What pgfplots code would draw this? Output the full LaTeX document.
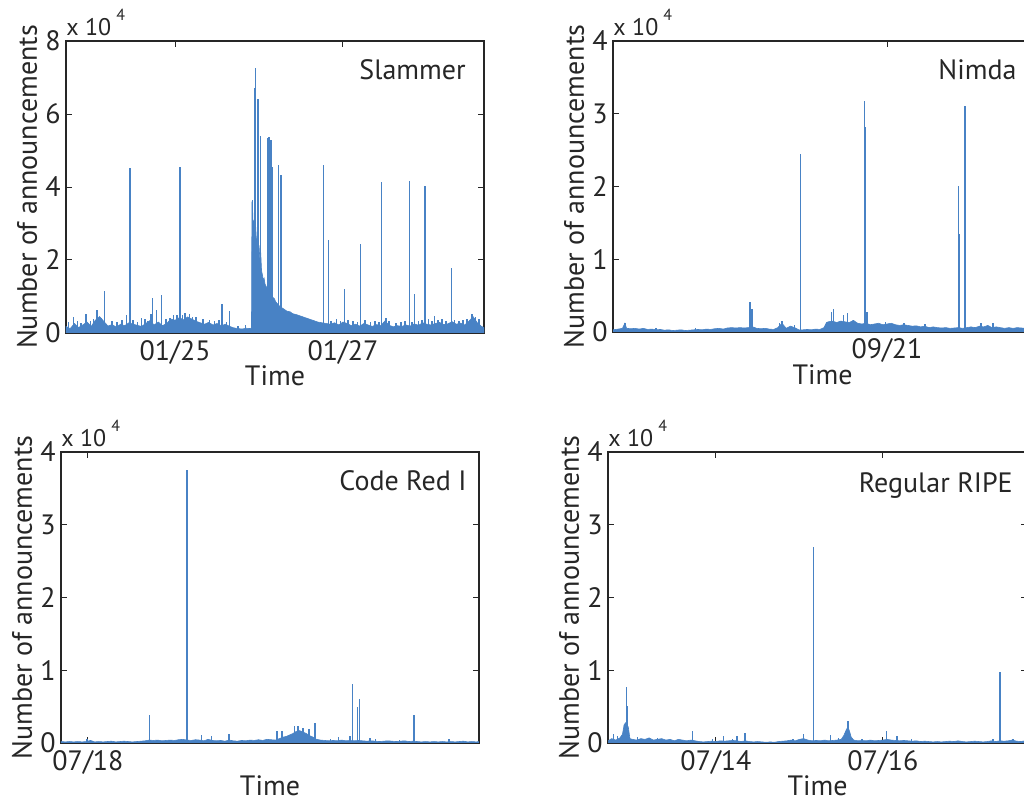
\documentclass[border=0pt]{standalone}
\usepackage{fontspec}
\setmainfont{PT Sans}
\usepackage{pgfplots}
\usepackage{pgfplotstable}
\pgfplotsset{compat=1.18}
\definecolor{mblue}{RGB}{72,130,197}
\definecolor{axgray}{RGB}{38,38,38}

% ---------------- Slammer ----------------
\pgfplotstableread{
x y
23.70 1800
23.75 1200
23.80 2600
23.85 1500
23.90 2200
23.95 3000
24.00 1800
24.05 3500
24.10 4500
24.15 3200
24.20 1900
24.25 2300
24.30 1600
24.35 2400
24.40 2000
24.45 2800
24.50 2400
24.55 2100
24.60 1800
24.65 2600
24.70 3400
24.75 2200
24.80 3000
24.85 2000
24.90 2600
24.95 3800
25.00 3500
25.05 4200
25.10 3600
25.15 4400
25.20 3800
25.25 3200
25.30 2800
25.35 2400
25.40 2900
25.45 2200
25.50 2600
25.55 2000
25.60 2400
25.65 1800
25.70 1400
25.75 1200
25.80 1100
25.85 1300
25.90 1200
25.91 1500
25.915 36000
25.92 30000
25.925 33000
25.93 28000
25.94 31000
25.95 27000
25.96 29000
25.97 25000
25.98 26000
25.99 22000
26.00 24000
26.01 20000
26.02 22000
26.03 17000
26.04 16000
26.05 14500
26.06 15000
26.07 13500
26.08 13000
26.09 12500
26.10 12000
26.12 11000
26.14 10500
26.16 9800
26.18 9500
26.20 8500
26.22 8000
26.25 7200
26.28 6800
26.30 6500
26.33 6000
26.37 5800
26.40 5300
26.45 5000
26.50 4600
26.55 4200
26.60 3800
26.65 3400
26.70 3000
26.75 2800
26.80 2600
26.85 2400
26.90 2800
26.95 2200
27.00 3000
27.05 2600
27.10 2000
27.15 2400
27.20 1900
27.25 2600
27.30 2200
27.35 1800
27.40 2300
27.45 2000
27.50 3300
27.55 2100
27.60 1700
27.65 2000
27.70 1800
27.75 2200
27.80 1900
27.85 2500
27.90 2100
27.95 2800
28.00 2400
28.05 2200
28.10 2600
28.15 2900
28.20 2300
28.25 2500
28.30 3100
28.35 2400
28.40 2700
28.45 2200
28.50 3200
28.55 4500
28.60 2800
28.65 1800
28.68 1500
}\slambase

\pgfplotstableread{
x y
23.73 3000
23.79 4500
23.84 3200
23.88 2800
23.94 5200
23.99 3400
24.03 3900
24.07 6300
24.12 4200
24.16 11500
24.25 3300
24.31 2900
24.37 3600
24.42 4900
24.46 45100
24.50 3500
24.55 3000
24.60 4000
24.64 3800
24.67 3300
24.71 5200
24.73 9500
24.78 6300
24.84 10500
24.89 3700
24.94 4000
24.98 4800
25.02 5000
25.06 45400
25.09 4900
25.12 5600
25.17 5200
25.21 4500
25.25 4300
25.33 3800
25.41 3500
25.47 3200
25.52 3600
25.56 8000
25.61 3000
25.65 6000
25.75 2000
25.84 2200
25.92 36500
25.95 67000
25.96 72600
25.99 64000
26.02 54000
26.10 53500
26.12 53600
26.14 53000
26.16 45600
26.23 46000
26.26 43400
26.77 46000
26.83 25500
26.86 3400
26.92 3800
26.97 3200
27.02 12000
27.06 3600
27.12 3300
27.17 2900
27.21 24400
27.26 3500
27.33 3100
27.38 3400
27.43 2900
27.46 41300
27.51 4200
27.55 3300
27.63 2800
27.69 3000
27.74 3400
27.79 41700
27.82 3100
27.85 10600
27.90 3200
27.94 3600
27.98 40300
28.02 3800
28.06 3300
28.09 4700
28.13 3500
28.18 3800
28.23 3300
28.29 17900
28.33 3600
28.38 3200
28.43 3500
28.48 3900
28.54 5300
28.58 4400
28.62 3800
}\slamspk

% ---------------- Nimda ----------------
\pgfplotstableread{
x y
17.74 300
17.80 400
17.85 500
17.88 1200
17.90 500
17.95 450
18.00 500
18.05 400
18.10 500
18.15 350
18.20 400
18.25 300
18.30 350
18.35 250
18.40 300
18.45 200
18.50 250
18.55 300
18.60 200
18.65 250
18.70 300
18.75 350
18.80 300
18.85 400
18.90 350
18.95 450
19.00 500
19.05 400
19.10 550
19.15 600
19.20 550
19.25 600
19.30 550
19.35 600
19.40 700
19.45 500
19.50 450
19.55 500
19.60 400
19.65 350
19.70 600
19.75 1200
19.80 500
19.85 800
19.90 600
19.95 300
20.00 300
20.05 350
20.10 300
20.15 400
20.20 350
20.25 600
20.28 1300
20.30 1400
20.35 1500
20.40 1300
20.45 1500
20.50 1400
20.55 1300
20.60 1600
20.65 1200
20.70 1100
20.75 1200
20.80 1000
20.85 1100
20.90 1200
20.95 1000
21.00 1100
21.05 1200
21.10 1000
21.15 900
21.20 1000
21.25 900
21.30 800
21.35 850
21.40 700
21.45 800
21.50 600
21.55 700
21.60 600
21.65 550
21.70 600
21.75 500
21.80 550
21.85 600
21.90 500
21.95 600
22.00 700
22.05 600
22.10 800
22.15 700
22.20 900
22.25 600
22.30 700
22.35 600
22.40 500
22.45 600
22.50 500
22.55 600
22.60 550
22.65 500
22.73 500
}\nimbase

\pgfplotstableread{
x y
17.88 1300
18.25 600
18.72 500
19.37 4100
19.39 3200
19.72 1300
19.75 1500
19.90 1000
19.97 24400
20.34 2700
20.36 3200
20.48 2400
20.53 2600
20.73 31700
20.74 28200
20.76 2800
20.98 1400
21.20 1200
21.45 1100
21.85 20000
21.86 13500
21.93 31000
22.12 1200
22.26 1300
}\nimspk

% ---------------- Code Red I ----------------
\pgfplotstableread{
x y
17.68 200
17.73 150
17.78 200
17.83 150
17.88 200
17.93 150
17.98 200
18.03 350
18.08 150
18.13 200
18.18 150
18.23 200
18.28 250
18.33 150
18.38 200
18.43 250
18.48 200
18.53 150
18.58 200
18.63 250
18.68 300
18.73 400
18.78 350
18.83 400
18.88 300
18.93 350
18.98 400
19.03 350
19.08 450
19.13 500
19.18 400
19.23 350
19.28 450
19.33 400
19.38 300
19.43 500
19.48 350
19.53 300
19.58 350
19.63 250
19.68 400
19.73 300
19.78 250
19.83 350
19.88 300
19.93 400
19.98 350
20.03 450
20.08 350
20.13 500
20.18 450
20.23 400
20.28 600
20.32 800
20.36 900
20.40 1100
20.44 1300
20.48 1600
20.52 1700
20.56 1500
20.60 1300
20.64 1000
20.68 800
20.72 500
20.77 400
20.82 350
20.87 300
20.92 350
20.97 300
21.02 400
21.07 300
21.12 350
21.17 300
21.22 350
21.27 300
21.32 250
21.37 300
21.42 250
21.47 200
21.52 250
21.57 300
21.62 250
21.67 200
21.72 250
21.77 300
21.82 200
21.87 250
21.92 200
21.97 150
22.02 200
22.07 150
22.12 200
22.17 150
22.22 200
22.27 150
22.32 200
22.37 150
22.42 200
22.47 250
22.52 150
22.57 200
22.62 150
22.66 200
}\crbase

\pgfplotstableread{
x y
17.99 500
18.73 3800
19.18 37500
19.35 1100
19.47 900
19.68 1200
20.25 1700
20.31 1600
20.46 2300
20.50 2300
20.56 2100
20.63 1900
20.70 2700
20.89 600
20.98 800
21.12 1000
21.15 8100
21.21 5000
21.23 6000
21.36 700
21.42 600
21.71 400
21.88 3900
22.30 600
}\crspk

% ---------------- Regular RIPE ----------------
\pgfplotstableread{
x y
12.71 300
12.75 600
12.80 400
12.85 700
12.88 1200
12.90 2500
12.92 2800
12.95 2200
12.97 600
13.00 500
13.05 400
13.10 600
13.15 500
13.20 700
13.25 400
13.30 500
13.35 600
13.40 400
13.45 500
13.50 300
13.55 500
13.60 400
13.65 300
13.70 400
13.75 300
13.80 200
13.85 150
13.90 200
13.95 250
14.00 200
14.05 300
14.10 250
14.15 300
14.20 350
14.25 300
14.30 200
14.35 300
14.40 200
14.45 150
14.50 200
14.55 150
14.60 100
14.65 150
14.70 100
14.75 200
14.80 250
14.85 300
14.90 400
14.95 300
15.00 500
15.05 600
15.10 400
15.15 300
15.20 350
15.25 300
15.30 400
15.35 300
15.40 350
15.45 400
15.50 500
15.53 1000
15.56 1800
15.58 2200
15.60 1600
15.62 800
15.65 400
15.70 300
15.75 350
15.80 300
15.85 400
15.90 300
15.95 350
16.00 400
16.05 500
16.10 400
16.15 350
16.20 300
16.25 350
16.30 300
16.35 250
16.40 300
16.45 200
16.50 250
16.55 200
16.60 150
16.65 200
16.70 150
16.75 200
16.80 250
16.85 200
16.90 300
16.95 200
17.00 150
17.05 200
17.10 250
17.15 200
17.20 150
17.25 200
17.30 300
17.35 200
17.40 300
17.45 250
17.50 300
17.55 400
17.60 250
17.65 200
17.70 300
17.76 200
}\ripebase

\pgfplotstableread{
x y
12.77 1300
12.82 900
12.93 7700
12.94 5100
13.06 800
13.30 700
13.72 1650
13.96 600
14.09 900
14.20 600
14.25 900
14.35 1400
14.92 600
15.05 1300
15.17 27000
15.37 1100
15.47 700
15.58 3000
15.75 600
16.04 1600
16.17 1000
16.34 500
17.32 500
17.40 9700
17.56 600
}\ripespk

\pgfplotsset{
  panel/.style={
    scale only axis, anchor=south west,
    width=209pt, height=145.5pt,
    ymin=0,
    tick align=inside, major tick length=3pt,
    axis line style={axgray, line width=0.8pt},
    tick style={axgray, line width=0.5pt},
    /pgf/number format/assume math mode=true,
    ticklabel style={font=\fontsize{14}{16}\selectfont, text=axgray},
    yticklabel style={inner sep=2.5pt},
    label style={font=\fontsize{14}{16}\selectfont, text=axgray},
    xlabel={Time},
    ylabel={Number of announcements},
    xlabel style={at={(axis description cs:0.5,-0.147)}, anchor=center},
    ylabel style={at={(axis description cs:-0.093,0.5)}, anchor=center},
    scaled y ticks=base 10:-4,
    ytick scale label code/.code={x 10\hspace{2.5pt}\raisebox{7.5pt}{\fontsize{8}{8}\selectfont 4}},
    every y tick scale label/.style={at={(rel axis cs:0,1)}, anchor=south west,
      inner sep=0pt, yshift=2.5pt, font=\fontsize{12}{12}\selectfont, text=axgray},
  },
  base/.style={draw=mblue, fill=mblue, line width=0.3pt},
  spk/.style={mblue, ycomb, line width=0.75pt, mark=none},
}
\tikzset{ptitle/.style={anchor=north east, inner sep=0pt, font=\fontsize{14}{16}\selectfont, text=axgray}}

\begin{document}
\begin{tikzpicture}
% Slammer
\begin{axis}[panel, at={(33pt,235.5pt)}, width=209pt, height=146pt,
  xmin=23.70, xmax=28.68, ymax=80000,
  ytick={0,20000,40000,60000,80000},
  xtick={25,27}, xticklabels={01/25,01/27}]
  \addplot[base] table {\slambase} \closedcycle;
  \addplot[spk] table {\slamspk};
  \node[ptitle] at (rel axis cs:0.957,0.938) {Slammer};
\end{axis}
% Nimda
\begin{axis}[panel, at={(306.5pt,236pt)}, width=209.5pt,
  xmin=17.738, xmax=22.726, ymax=40000,
  ytick={0,10000,20000,30000,40000},
  xtick={21}, xticklabels={09/21}]
  \addplot[base] table {\nimbase} \closedcycle;
  \addplot[spk] table {\nimspk};
  \node[ptitle] at (rel axis cs:0.964,0.938) {Nimda};
\end{axis}
% Code Red I
\begin{axis}[panel, at={(30.5pt,30.5pt)}, width=209pt,
  xmin=17.679, xmax=22.655, ymax=40000,
  ytick={0,10000,20000,30000,40000},
  xtick={18}, xticklabels={07/18}]
  \addplot[base] table {\crbase} \closedcycle;
  \addplot[spk] table {\crspk};
  \node[ptitle] at (rel axis cs:0.971,0.938) {Code Red I};
\end{axis}
% Regular RIPE
\begin{axis}[panel, at={(304pt,30.5pt)}, width=209.5pt,
  xmin=12.707, xmax=17.725, ymax=40000,
  ytick={0,10000,20000,30000,40000},
  xtick={14,16}, xticklabels={07/14,07/16}]
  \addplot[base] table {\ripebase} \closedcycle;
  \addplot[spk] table {\ripespk};
  \node[ptitle] at (rel axis cs:0.967,0.931) {Regular RIPE};
\end{axis}
\pgfresetboundingbox
\useasboundingbox (0,0) rectangle (512pt,402pt);
\end{tikzpicture}
\end{document}
